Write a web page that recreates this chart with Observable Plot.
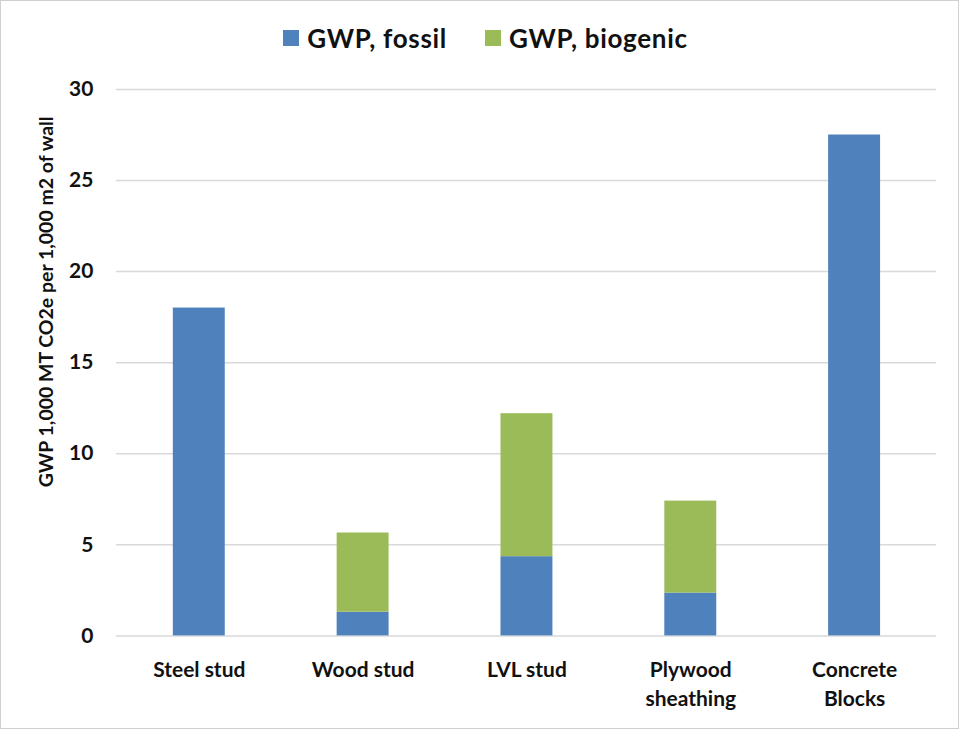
<!DOCTYPE html>
<html>
<head>
<meta charset="utf-8">
<script src="https://cdn.jsdelivr.net/npm/d3@7"></script>
<script src="https://cdn.jsdelivr.net/npm/@observablehq/plot@0.6"></script>
<style>
  html, body { margin: 0; padding: 0; background: #fff; }
  #frame { position: relative; width: 959px; height: 729px; box-sizing: border-box; border: 1px solid #d0d0d0; overflow: hidden; font-family: Lato, "Open Sans", sans-serif; }
  #legend { position: absolute; left: 0; top: 0; width: 957px; height: 74px; display: flex; justify-content: center; align-items: center; gap: 38px; font-size: 26px; letter-spacing: 0.7px; font-weight: bold; color: #111; box-sizing: border-box; padding-left: 12px; }
  #legend .item { display: flex; align-items: center; gap: 8px; }
  #legend .sw { width: 16px; height: 16px; display: inline-block; }
  #chart { position: absolute; left: -1px; top: 69px; }
</style>
</head>
<body>
<div id="frame">
  <div id="legend"></div>
  <div id="chart"></div>
</div>
<script>
const categories = ["Steel stud", "Wood stud", "LVL stud", "Plywood\nsheathing", "Concrete\nBlocks"];
const seriesNames = ["GWP, fossil", "GWP, biogenic"];
const fossil = [18.0, 1.3, 4.35, 2.35, 27.5];
const biogenic = [0, 4.35, 7.85, 5.05, 0];
const yTicks = [0, 5, 10, 15, 20, 25, 30];
const colors = ["#4f81bd", "#9bbb59"];
const yLabel = "GWP 1,000 MT CO2e per 1,000 m2 of wall";

const data = [];
categories.forEach((c, i) => {
  data.push({category: c, series: seriesNames[0], value: fossil[i]});
  data.push({category: c, series: seriesNames[1], value: biogenic[i]});
});

const legend = document.getElementById("legend");
seriesNames.forEach((s, i) => {
  const item = document.createElement("div");
  item.className = "item";
  const sw = document.createElement("span");
  sw.className = "sw";
  sw.style.background = colors[i];
  const t = document.createElement("span");
  t.textContent = s;
  item.appendChild(sw);
  item.appendChild(t);
  legend.appendChild(item);
});

const chart = Plot.plot({
  width: 959,
  height: 659,
  marginTop: 19,
  marginBottom: 93,
  marginLeft: 116,
  marginRight: 22,
  style: {fontFamily: "Lato, 'Open Sans', sans-serif", fontSize: "20px", color: "#111", background: "transparent"},
  x: {domain: categories, padding: 0, label: null},
  y: {domain: [0, 30], label: null},
  color: {domain: seriesNames, range: colors},
  marks: [
    Plot.gridY(yTicks, {stroke: "#d9d9d9", strokeOpacity: 1, strokeWidth: 1.5}),
    Plot.barY(data, Plot.stackY({x: "category", y: "value", fill: "series", order: seriesNames, insetLeft: 56, insetRight: 56})),
    Plot.axisY(yTicks, {tickSize: 0, tickPadding: 23, fontWeight: "bold", fontSize: 21, label: null}),
    Plot.axisX({tickSize: 0, tickPadding: 20, fontWeight: "bold", fontSize: 21, lineHeight: 1.4, label: null}),
    Plot.text([yLabel], {frameAnchor: "left", textAnchor: "middle", dx: -70, dy: -61, rotate: -90, fontSize: 19.5, fontWeight: "bold", fill: "#111"})
  ]
});
document.getElementById("chart").appendChild(chart);
</script>
</body>
</html>
